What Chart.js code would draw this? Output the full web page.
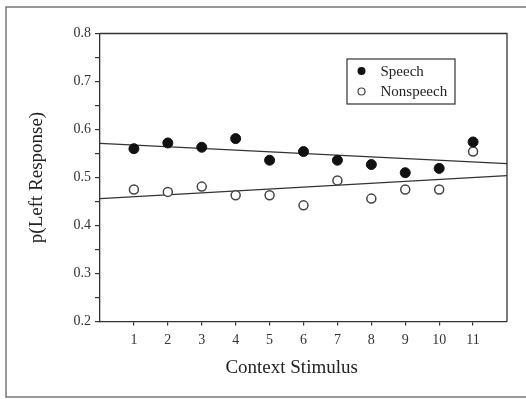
<!DOCTYPE html>
<html>
<head>
<meta charset="utf-8">
<script src="https://cdn.jsdelivr.net/npm/chart.js@4/dist/chart.umd.min.js"></script>
<style>
  html, body { margin: 0; padding: 0; background: #fff; }
  #wrap { width: 526px; height: 399px; }
</style>
</head>
<body>
<div id="wrap"><canvas id="chart"></canvas></div>
<script>
// datos
const stimuli = [1, 2, 3, 4, 5, 6, 7, 8, 9, 10, 11];
const speech = [0.560, 0.572, 0.563, 0.581, 0.536, 0.554, 0.536, 0.527, 0.510, 0.519, 0.574];
const nonspeech = [0.475, 0.470, 0.481, 0.463, 0.463, 0.442, 0.494, 0.456, 0.475, 0.475, 0.554];
// rectas de regresion (extremos del eje x)
const fitX = [0, 12];
const speechFit = [0.571, 0.529];
const nonspeechFit = [0.456, 0.504];
const yTickLabels = ['0.2', '0.3', '0.4', '0.5', '0.6', '0.7', '0.8'];
const legendLabels = ['Speech', 'Nonspeech'];

const ink = '#333';
const serif = "'Liberation Serif', 'DejaVu Serif', serif";

const toPoints = (xs, ys) => xs.map((x, i) => ({ x: x, y: ys[i] }));

// marco exterior, caja del grafico y leyenda
const framePlugin = {
  id: 'frame',
  afterDraw(chart) {
    const c = chart.ctx;
    const a = chart.chartArea;
    c.save();
    c.strokeStyle = '#777';
    c.lineWidth = 1.5;
    c.strokeRect(6, 7, 530, 390);
    c.strokeStyle = ink;
    c.lineWidth = 1.3;
    c.beginPath();
    c.moveTo(a.left, a.top);
    c.lineTo(a.right, a.top);
    c.lineTo(a.right, a.bottom);
    c.stroke();

    // leyenda
    const bx = a.left + 247, by = a.top + 25.5;
    c.lineWidth = 1.2;
    c.strokeRect(bx, by, 108, 45);
    c.font = '15px ' + serif;
    c.fillStyle = '#222';
    c.textBaseline = 'middle';
    c.textAlign = 'left';
    legendLabels.forEach((lab, i) => {
      const y = by + 12 + i * 20.5;
      c.beginPath();
      c.arc(bx + 14.5, y, i === 0 ? 4 : 3.5, 0, Math.PI * 2);
      if (i === 0) { c.fillStyle = '#111'; c.fill(); }
      else { c.fillStyle = '#fff'; c.fill(); c.strokeStyle = '#444'; c.lineWidth = 1.2; c.stroke(); }
      c.fillStyle = '#222';
      c.fillText(lab, bx + 33.5, y + 1);
    });
    c.restore();
  }
};

new Chart(document.getElementById('chart'), {
  type: 'scatter',
  data: {
    datasets: [
      {
        label: legendLabels[0],
        data: toPoints(stimuli, speech),
        pointRadius: 5,
        pointBackgroundColor: '#111',
        pointBorderColor: '#111',
        pointBorderWidth: 1,
        order: 1
      },
      {
        label: legendLabels[1],
        data: toPoints(stimuli, nonspeech),
        pointRadius: 4.5,
        pointBackgroundColor: '#fff',
        pointBorderColor: '#444',
        pointBorderWidth: 1.5,
        order: 1
      },
      {
        type: 'line',
        data: toPoints(fitX, speechFit),
        borderColor: ink,
        borderWidth: 1.2,
        pointRadius: 0,
        order: 2
      },
      {
        type: 'line',
        data: toPoints(fitX, nonspeechFit),
        borderColor: ink,
        borderWidth: 1.2,
        pointRadius: 0,
        order: 2
      }
    ]
  },
  options: {
    responsive: true,
    maintainAspectRatio: false,
    animation: false,
    layout: { padding: { left: 0, top: 33.5, right: 19, bottom: 0 } },
    plugins: {
      legend: { display: false },
      tooltip: { enabled: false }
    },
    scales: {
      x: {
        type: 'linear',
        min: 0,
        max: 12,
        afterFit: s => { s.height = 77.5; },
        afterBuildTicks: s => { s.ticks = s.ticks.filter(t => t.value >= 1 && t.value <= 11); },
        ticks: {
          stepSize: 1,
          color: '#333',
          padding: 6,
          font: { family: serif, size: 14 },
          callback: v => String(v)
        },
        grid: { drawOnChartArea: false, drawTicks: true, tickLength: 4, color: ink, lineWidth: 1.2 },
        border: { display: true, color: ink, width: 1.3 },
        title: {
          display: true,
          text: 'Context Stimulus\u00a0\u00a0\u00a0\u00a0\u00a0',
          color: '#222',
          font: { family: serif, size: 19 },
          padding: { top: 0, bottom: 19.5 }
        }
      },
      y: {
        min: 0.2,
        max: 0.8,
        afterFit: s => { s.width = 100; },
        ticks: {
          stepSize: 0.05,
          color: '#333',
          padding: 4,
          font: { family: serif, size: 14 },
          callback: v => {
            const k = Math.round(v * 10);
            if (Math.abs(v * 10 - k) > 1e-6) return '';
            return yTickLabels[k - 2];
          }
        },
        grid: { drawOnChartArea: false, drawTicks: true, tickLength: 5, color: ink, lineWidth: 1.2 },
        border: { display: true, color: ink, width: 1.3 },
        title: {
          display: true,
          text: 'p(Left Response)',
          color: '#222',
          font: { family: serif, size: 19 },
          padding: { top: 26, bottom: 0 }
        }
      }
    }
  },
  plugins: [framePlugin]
});
</script>
</body>
</html>
